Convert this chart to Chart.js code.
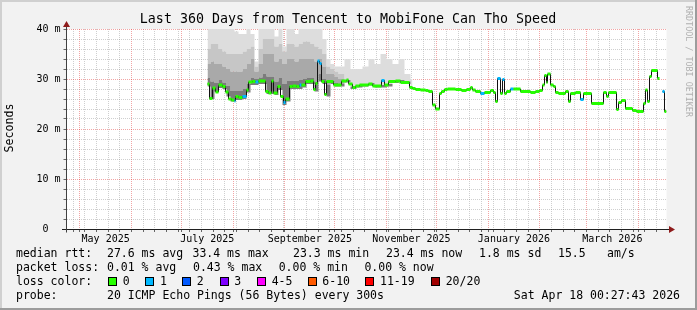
<!DOCTYPE html>
<html><head><meta charset="utf-8">
<script src="https://cdn.jsdelivr.net/npm/chart.js@4/dist/chart.umd.min.js"></script>
<style>html,body{margin:0;padding:0;background:#f2f2f2;overflow:hidden}canvas{display:block}</style>
</head><body>
<canvas id="c" width="697" height="310" style="width:697px;height:310px"></canvas>
<script>
// ---- axis definitions (days since Apr 23 2025 00:27, 360-day window) ----
const monthStartDays = [7.98, 38.98, 68.98, 99.98, 130.98, 160.98, 191.98, 221.98, 252.98, 283.98, 311.98, 342.98];
const firstSunday = 3.98;
const monthLabelDays = [23.48, 84.48, 145.98, 206.98, 268.48, 327.48];
const monthLabels = ['May 2025', 'July 2025', 'September 2025', 'November 2025', 'January 2026', 'March 2026'];
const yTickValues = [0, 10, 20, 30, 40];

// ---- median RTT (ms), step starts in days ----
const medianDay = [84.6, 85.8, 87.6, 89.4, 91.2, 93.6, 95.4, 97.2, 99.0, 100.8, 101.4, 103.2, 105.6, 108.0, 109.2, 111.6, 113.4, 115.2, 119.4, 121.2, 123.0, 124.2, 126.6, 128.4, 130.2, 131.4, 133.8, 135.6, 138.0, 139.8, 141.0, 143.4, 146.4, 148.2, 149.4, 150.6, 151.8, 153.0, 154.8, 156.0, 160.2, 165.0, 168.0, 169.2, 171.6, 173.4, 175.8, 181.2, 183.6, 189.0, 190.8, 193.2, 197.4, 200.4, 205.8, 207.6, 209.4, 212.4, 215.4, 217.2, 219.6, 221.4, 223.8, 225.0, 226.8, 228.6, 233.4, 237.0, 240.0, 242.4, 243.6, 245.4, 248.4, 250.8, 254.4, 256.2, 257.4, 258.6, 260.4, 261.6, 262.8, 264.0, 266.4, 268.2, 272.4, 278.4, 281.4, 283.8, 285.6, 286.8, 288.0, 288.6, 290.4, 292.2, 293.4, 295.2, 299.4, 301.2, 302.4, 305.4, 308.4, 310.2, 315.0, 322.2, 324.0, 325.2, 330.0, 331.2, 333.0, 335.4, 339.6, 342.0, 346.2, 347.4, 348.6, 349.8, 351.0, 354.6, 355.8, 357.6, 358.8, 360];
const medianMs = [29.0, 26.1, 28.2, 27.4, 28.8, 28.5, 27.4, 26.0, 25.8, 25.6, 26.5, 26.3, 26.5, 27.8, 29.4, 29.5, 29.4, 29.6, 27.5, 27.2, 29.6, 27.2, 28.5, 26.5, 25.3, 26.0, 28.5, 28.6, 28.5, 28.8, 28.8, 29.5, 29.6, 27.9, 29.1, 33.6, 33.1, 29.5, 26.9, 29.5, 28.8, 29.6, 29.8, 29.0, 28.3, 28.6, 28.8, 29.0, 28.6, 29.7, 28.8, 29.5, 29.6, 29.3, 28.3, 28.1, 27.9, 27.8, 27.7, 27.5, 24.8, 24.0, 27.1, 27.5, 27.9, 28.0, 27.9, 27.7, 27.9, 28.3, 27.8, 27.5, 27.1, 27.3, 27.7, 27.3, 25.5, 30.1, 27.1, 29.9, 27.1, 27.5, 28.0, 28.0, 27.5, 27.3, 27.5, 27.7, 28.8, 30.7, 29.3, 31.0, 28.8, 28.5, 27.3, 27.1, 27.5, 25.5, 27.1, 27.3, 25.9, 27.1, 25.1, 27.3, 26.5, 27.3, 23.9, 25.3, 25.7, 24.1, 23.7, 23.5, 25.1, 27.8, 25.5, 30.5, 31.7, 30.1, null, 27.5, 23.5, 23.5];
const medianLoss = [0,0,0,0,0,0,0,0,0,1, 0,0,1,0,0,0,1,0,0,0, 0,0,0,0,1,0,0,0,0,1, 0,0,0,0,0,1,1,0,0,0, 0,0,0,0,0,0,0,0,0,1, 0,0,0,0,0,0,0,0,0,0, 0,0,0,0,0,0,0,0,0,0, 0,0,1,0,0,0,0,1,0,1, 0,0,1,0,0,0,0,0,0,0, 0,0,0,0,0,0,0,0,0,0, 1,0,0,0,0,0,0,0,0,0, 0,0,0,0,0,0,0,0,0,1, 0,0];

// ---- smoke (ping spread, ms) ----
const smokeDay = [84.6, 86.4, 88.8, 91.2, 93.6, 96.0, 98.4, 100.8, 103.2, 105.6, 108.0, 110.4, 112.8, 115.2, 117.6, 120.0, 122.4, 124.8, 127.2, 129.6, 132.0, 134.4, 136.8, 139.2, 141.6, 144.0, 146.4, 148.8, 151.2, 153.6, 156.0, 158.4, 160.8, 163.2, 166.8, 170.4, 174.0, 177.6, 181.2, 184.8, 188.4, 192.0, 195.6, 199.2, 202.8, 206.4, 207.6];
const smokeMin = [28.5, 26.0, 27.5, 28.2, 28.0, 26.5, 25.5, 25.8, 25.8, 26.0, 27.3, 28.8, 28.8, 29.0, 29.0, 27.0, 27.0, 26.8, 27.8, 24.8, 25.5, 28.0, 28.0, 28.0, 28.3, 29.0, 29.0, 27.5, 29.5, 29.0, 26.5, 29.0, 28.5, 28.5, 29.3, 28.0, 28.3, 28.5, 28.7, 28.3, 28.3, 28.5, 29.2, 29.3, 29.0, 28.0, 28.0];
const smokeDark = [30.2, 29.5, 29.2, 29.8, 29.3, 28.6, 27.6, 27.6, 27.6, 28.0, 29.0, 30.2, 30.0, 30.3, 31.0, 30.5, 30.5, 29.5, 30.2, 29.0, 29.6, 29.7, 29.6, 29.8, 30.0, 30.3, 30.3, 29.5, 31.0, 30.0, 28.8, 29.7, 29.2, 29.0, 29.8, 28.5, 28.8, 29.0, 29.2, 28.8, 28.8, 29.0, 29.7, 29.8, 29.5, 28.5, 28.5];
const smokeMid = [33.0, 33.5, 33.0, 33.0, 32.5, 32.0, 31.5, 31.5, 31.5, 32.0, 33.0, 34.0, 31.5, 33.0, 35.0, 35.0, 35.0, 33.5, 34.0, 33.0, 34.0, 34.0, 33.5, 34.0, 34.0, 34.0, 34.0, 33.5, 34.0, 32.5, 31.0, 31.0, 30.5, 30.0, 29.8, 28.5, 28.8, 29.0, 29.2, 28.8, 28.8, 29.0, 29.7, 29.8, 29.5, 28.5, 28.5];
const smokeHigh = [36.0, 37.0, 37.0, 36.0, 35.5, 35.0, 35.0, 35.0, 35.0, 35.5, 36.0, 36.5, 32.5, 36.0, 38.0, 38.0, 38.0, 36.5, 37.0, 35.5, 37.0, 37.0, 36.5, 37.0, 37.5, 37.5, 37.0, 36.5, 36.0, 35.0, 32.5, 32.0, 31.5, 31.0, 29.8, 28.5, 28.8, 29.0, 29.2, 28.8, 28.8, 29.0, 29.7, 29.8, 29.5, 28.5, 28.5];
const smokeMax = [44.0, 45.0, 45.0, 46.0, 45.0, 42.0, 40.5, 39.5, 39.0, 39.0, 40.5, 39.0, 33.5, 40.5, 46.0, 46.0, 43.0, 38.5, 42.0, 36.5, 44.0, 45.0, 39.0, 44.0, 46.0, 46.0, 45.0, 43.0, 42.0, 38.0, 34.0, 33.0, 32.5, 32.5, 34.0, 32.0, 32.0, 32.5, 34.0, 33.0, 35.0, 34.0, 33.0, 34.0, 31.0, 30.0, 30.0];

// ---- legend ----
const lossLabels = ['0', '1', '2', '3', '4-5', '6-10', '11-19', '20/20'];
const lossColors = ['#26ff00', '#00b8ff', '#0059ff', '#7e00ff', '#ff00ff', '#ff5a00', '#ff0000', '#a00000'];
const statsRtt = ['27.6 ms avg', '33.4 ms max', '23.3 ms min', '23.4 ms now', '1.8 ms sd', '15.5', 'am/s'];
const statsLoss = ['0.01 % avg', '0.43 % max', '0.00 % min', '0.00 % now'];

const FONT = '"DejaVu Sans Mono", monospace';
const W = 697, H = 310;

// build datasets
const smokeLayers = [smokeMin, smokeDark, smokeMid, smokeHigh, smokeMax];
const smokeColors = [null, '#7c7c7c', '#a9a9a9', '#c6c6c6', '#dddddd'];
const datasets = smokeLayers.map((arr, k) => ({
  data: smokeDay.map((d, i) => ({x: d, y: arr[i]})),
  stepped: true, borderWidth: 0, borderColor: 'rgba(0,0,0,0)', pointRadius: 0,
  fill: k === 0 ? false : '-1', backgroundColor: smokeColors[k] || 'rgba(0,0,0,0)', order: 10 + k
}));
datasets.push({
  data: medianDay.map((d, i) => ({x: d, y: medianMs[i]})),
  stepped: true, borderWidth: 1, borderColor: '#111', pointRadius: 0, fill: false, spanGaps: false, order: 1
});
const segData = [], segLoss = [];
for (let i = 0; i < medianDay.length - 1; i++) {
  if (medianMs[i] === null) continue;
  segData.push({x: medianDay[i], y: medianMs[i]}, {x: medianDay[i + 1], y: medianMs[i]}, {x: medianDay[i + 1], y: null});
  segLoss.push(medianLoss[i]);
}
datasets.push({
  data: segData, borderWidth: 3, borderColor: lossColors[0], borderCapStyle: 'butt', pointRadius: 0,
  fill: false, spanGaps: false, order: 0,
  segment: {borderColor: ctx => lossColors[segLoss[Math.floor(ctx.p0DataIndex / 3)]]}
});

const GRAY = 'rgba(140,140,140,0.42)', RED = 'rgba(225,40,40,0.42)';
const isMonth = v => monthStartDays.some(m => Math.abs(m - v) < 0.01);

const deco = {
  id: 'deco',
  beforeDraw(chart) {
    const {ctx, chartArea: a} = chart;
    ctx.save();
    ctx.fillStyle = '#f2f2f2'; ctx.fillRect(0, 0, W, H);
    ctx.fillStyle = '#ffffff'; ctx.fillRect(a.left, a.top, a.right - a.left, a.bottom - a.top);
    ctx.restore();
  },
  afterDraw(chart) {
    const {ctx, chartArea: a} = chart;
    ctx.save();
    // frame
    ctx.fillStyle = '#d0d0d0'; ctx.fillRect(0, 0, W, 2); ctx.fillRect(0, 0, 2, H);
    ctx.fillStyle = '#9c9c9c'; ctx.fillRect(0, H - 2, W, 2); ctx.fillRect(W - 2, 0, 2, H);
    // axes
    const y0 = Math.round(a.bottom) + 0.5, xl = Math.floor(a.left) + 0.5;
    ctx.strokeStyle = '#202020'; ctx.lineWidth = 1;
    ctx.beginPath(); ctx.moveTo(62, y0); ctx.lineTo(670, y0); ctx.stroke();
    ctx.strokeStyle = '#404040';
    ctx.beginPath(); ctx.moveTo(xl, y0 + 3); ctx.lineTo(xl, 26); ctx.stroke();
    ctx.fillStyle = '#8e1b1b';
    ctx.beginPath(); ctx.moveTo(669, y0 - 3.5); ctx.lineTo(675, y0); ctx.lineTo(669, y0 + 3.5); ctx.closePath(); ctx.fill();
    ctx.beginPath(); ctx.moveTo(xl - 3.5, 27); ctx.lineTo(xl, 21); ctx.lineTo(xl + 3.5, 27); ctx.closePath(); ctx.fill();
    // title
    ctx.fillStyle = '#000';
    ctx.textBaseline = 'middle';
    ctx.textAlign = 'center';
    ctx.font = '13.3px ' + FONT;
    ctx.fillText('Last 360 Days from Tencent to MobiFone Can Tho Speed', 348, 19.5);
    // y title
    ctx.save();
    ctx.translate(10, 128); ctx.rotate(-Math.PI / 2);
    ctx.font = '11.6px ' + FONT;
    ctx.fillText('Seconds', 0, 0);
    ctx.restore();
    // watermark
    ctx.save();
    ctx.translate(688, 6); ctx.rotate(Math.PI / 2);
    ctx.textAlign = 'left'; ctx.fillStyle = '#b0b0b0';
    ctx.font = '8.4px ' + FONT;
    ctx.fillText('RRDTOOL / TOBI OETIKER', 0, 0);
    ctx.restore();
    // legend
    ctx.textAlign = 'left'; ctx.fillStyle = '#000';
    ctx.font = '11.5px ' + FONT;
    const r1 = 254, r2 = 268, r3 = 282, r4 = 296;
    ctx.fillText('median rtt:', 16, r1);
    [107, 192.5, 293, 386, 479, 558, 607].forEach((x, i) => ctx.fillText(statsRtt[i], x, r1));
    ctx.fillText('packet loss:', 16, r2);
    [107, 193, 278.7, 364.4].forEach((x, i) => ctx.fillText(statsLoss[i], x, r2));
    ctx.fillText('loss color:', 16, r3);
    const boxX = [108, 145.3, 182, 219.6, 257, 307.6, 365.3, 431];
    boxX.forEach((x, i) => {
      ctx.fillStyle = lossColors[i];
      ctx.fillRect(Math.round(x), r3 - 5, 9, 9);
      ctx.strokeStyle = '#000'; ctx.lineWidth = 1;
      ctx.strokeRect(Math.round(x) + 0.5, r3 - 4.5, 8, 8);
      ctx.fillStyle = '#000';
      ctx.fillText(lossLabels[i], x + 14.7, r3);
    });
    ctx.fillText('probe:', 16, r4);
    ctx.fillText('20 ICMP Echo Pings (56 Bytes) every 300s', 107, r4);
    ctx.textAlign = 'right';
    ctx.fillText('Sat Apr 18 00:27:43 2026', 680, r4);
    ctx.restore();
  }
};

new Chart(document.getElementById('c'), {
  type: 'line',
  data: {datasets},
  options: {
    responsive: false, animation: false, devicePixelRatio: 1,
    layout: {padding: {left: 0, right: 30.5, top: 29, bottom: 0}},
    plugins: {legend: {display: false}, tooltip: {enabled: false}, title: {display: false}},
    elements: {line: {tension: 0}},
    scales: {
      x: {
        type: 'linear', min: 0, max: 360, weight: 0, z: 1,
        afterBuildTicks: s => {
          const t = monthStartDays.map(v => ({value: v}));
          for (let d = firstSunday; d < 360; d += 7) if (!isMonth(d)) t.push({value: d});
          t.sort((p, q) => p.value - q.value);
          s.ticks = t;
        },
        afterFit: s => { s.height = 0; },
        ticks: {display: false, autoSkip: false},
        grid: {color: c => (c.tick && isMonth(c.tick.value)) ? RED : GRAY, lineWidth: 1, drawTicks: true, tickLength: 3, tickColor: '#666'},
        border: {display: false, dash: [1, 1]}
      },
      x2: {
        type: 'linear', position: 'bottom', min: 0, max: 360, weight: 1,
        afterBuildTicks: s => { s.ticks = monthLabelDays.map(v => ({value: v})); },
        afterFit: s => { s.height = 81; },
        ticks: {autoSkip: false, maxRotation: 0, padding: -4, color: '#000', font: {family: FONT, size: 10},
          callback: (v, i) => monthLabels[i]},
        grid: {display: false}, border: {display: false}
      },
      y: {
        type: 'linear', min: 0, max: 40, z: 1,
        afterBuildTicks: s => { const t = []; for (let v = 0; v <= 40; v += 2) t.push({value: v}); s.ticks = t; },
        afterFit: s => { s.width = 66.5; },
        ticks: {autoSkip: false, padding: 3, color: '#000', font: {family: FONT, size: 10},
          callback: v => yTickValues.includes(v) ? (v === 0 ? '0  ' : v + ' m') : ''},
        grid: {color: c => (c.tick && c.tick.value % 10 === 0) ? RED : GRAY, lineWidth: 1, drawTicks: true, tickLength: 3, tickColor: '#666'},
        border: {display: false, dash: [1, 1]}
      }
    }
  },
  plugins: [deco]
});
</script>
</body></html>
